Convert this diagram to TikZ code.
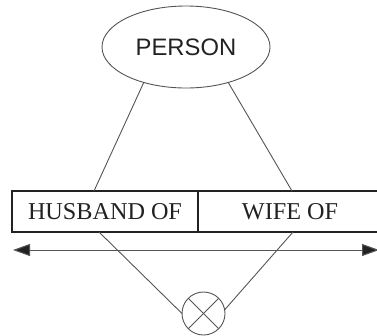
\documentclass[tikz,border=0pt]{standalone}
\usepackage{fontspec}
\setmainfont{Liberation Serif}
\newfontfamily\sansfam{Liberation Sans}
\usetikzlibrary{shapes.geometric,arrows.meta}
\definecolor{ink}{HTML}{222222}
\definecolor{wire}{HTML}{555555}
\begin{document}
\begin{tikzpicture}[x=1pt,y=-1pt,
  wireline/.style={draw=wire,line width=0.9pt},
  fieldbox/.style={draw=ink,line width=1.6pt,rectangle,inner sep=0pt,outer sep=0pt,
    minimum height=41pt,text=ink,font=\fontsize{24.2}{28}\selectfont},
  entity/.style={draw=wire,line width=0.9pt,ellipse,inner sep=0pt,outer sep=0pt,
    minimum width=168pt,minimum height=82pt,text=ink,font=\sansfam\fontsize{23.8}{28}\selectfont},
  joiner/.style={draw=wire,line width=0.9pt,circle,inner sep=0pt,outer sep=0pt,minimum size=43pt}]
\clip (0,0) rectangle (377,335);
\fill[white] (0,0) rectangle (377,335);

% entity
\node[entity] (person) at (186,47) {PERSON};

% role boxes
\node[fieldbox,minimum width=186pt] (husband) at (105,211.5) {HUSBAND OF};
\node[fieldbox,minimum width=192pt,anchor=west] (wife) at (198,211.5) {};
\node[text=ink,font=\fontsize{24.2}{28}\selectfont] (wifelbl) at (290,211.5) {WIFE OF};

% attachment points on the boxes
\coordinate (htop) at (94,191);
\coordinate (wtop) at (292,191);
\coordinate (hbot) at (99,232);
\coordinate (wbot) at (293,232);

% join symbol
\node[joiner] (join) at (203.5,313.5) {};
\draw[wireline] (join.north west) -- (join.south east);
\draw[wireline] (join.north east) -- (join.south west);

% connectors
\draw[wireline] (person.220) -- (htop);
\draw[wireline] (person.320) -- (wtop);
\draw[wireline] (hbot) -- (join.west);
\draw[wireline] (wbot) -- (join.10);

% double-headed arrow
\coordinate (aleft) at (13,250);
\coordinate (aright) at (379,250);
\draw[draw=wire,line width=1pt,{Triangle[length=17pt,width=12pt,fill=ink]}-{Triangle[length=17pt,width=12pt,fill=ink]}] (aleft) -- (aright);
\end{tikzpicture}
\end{document}
